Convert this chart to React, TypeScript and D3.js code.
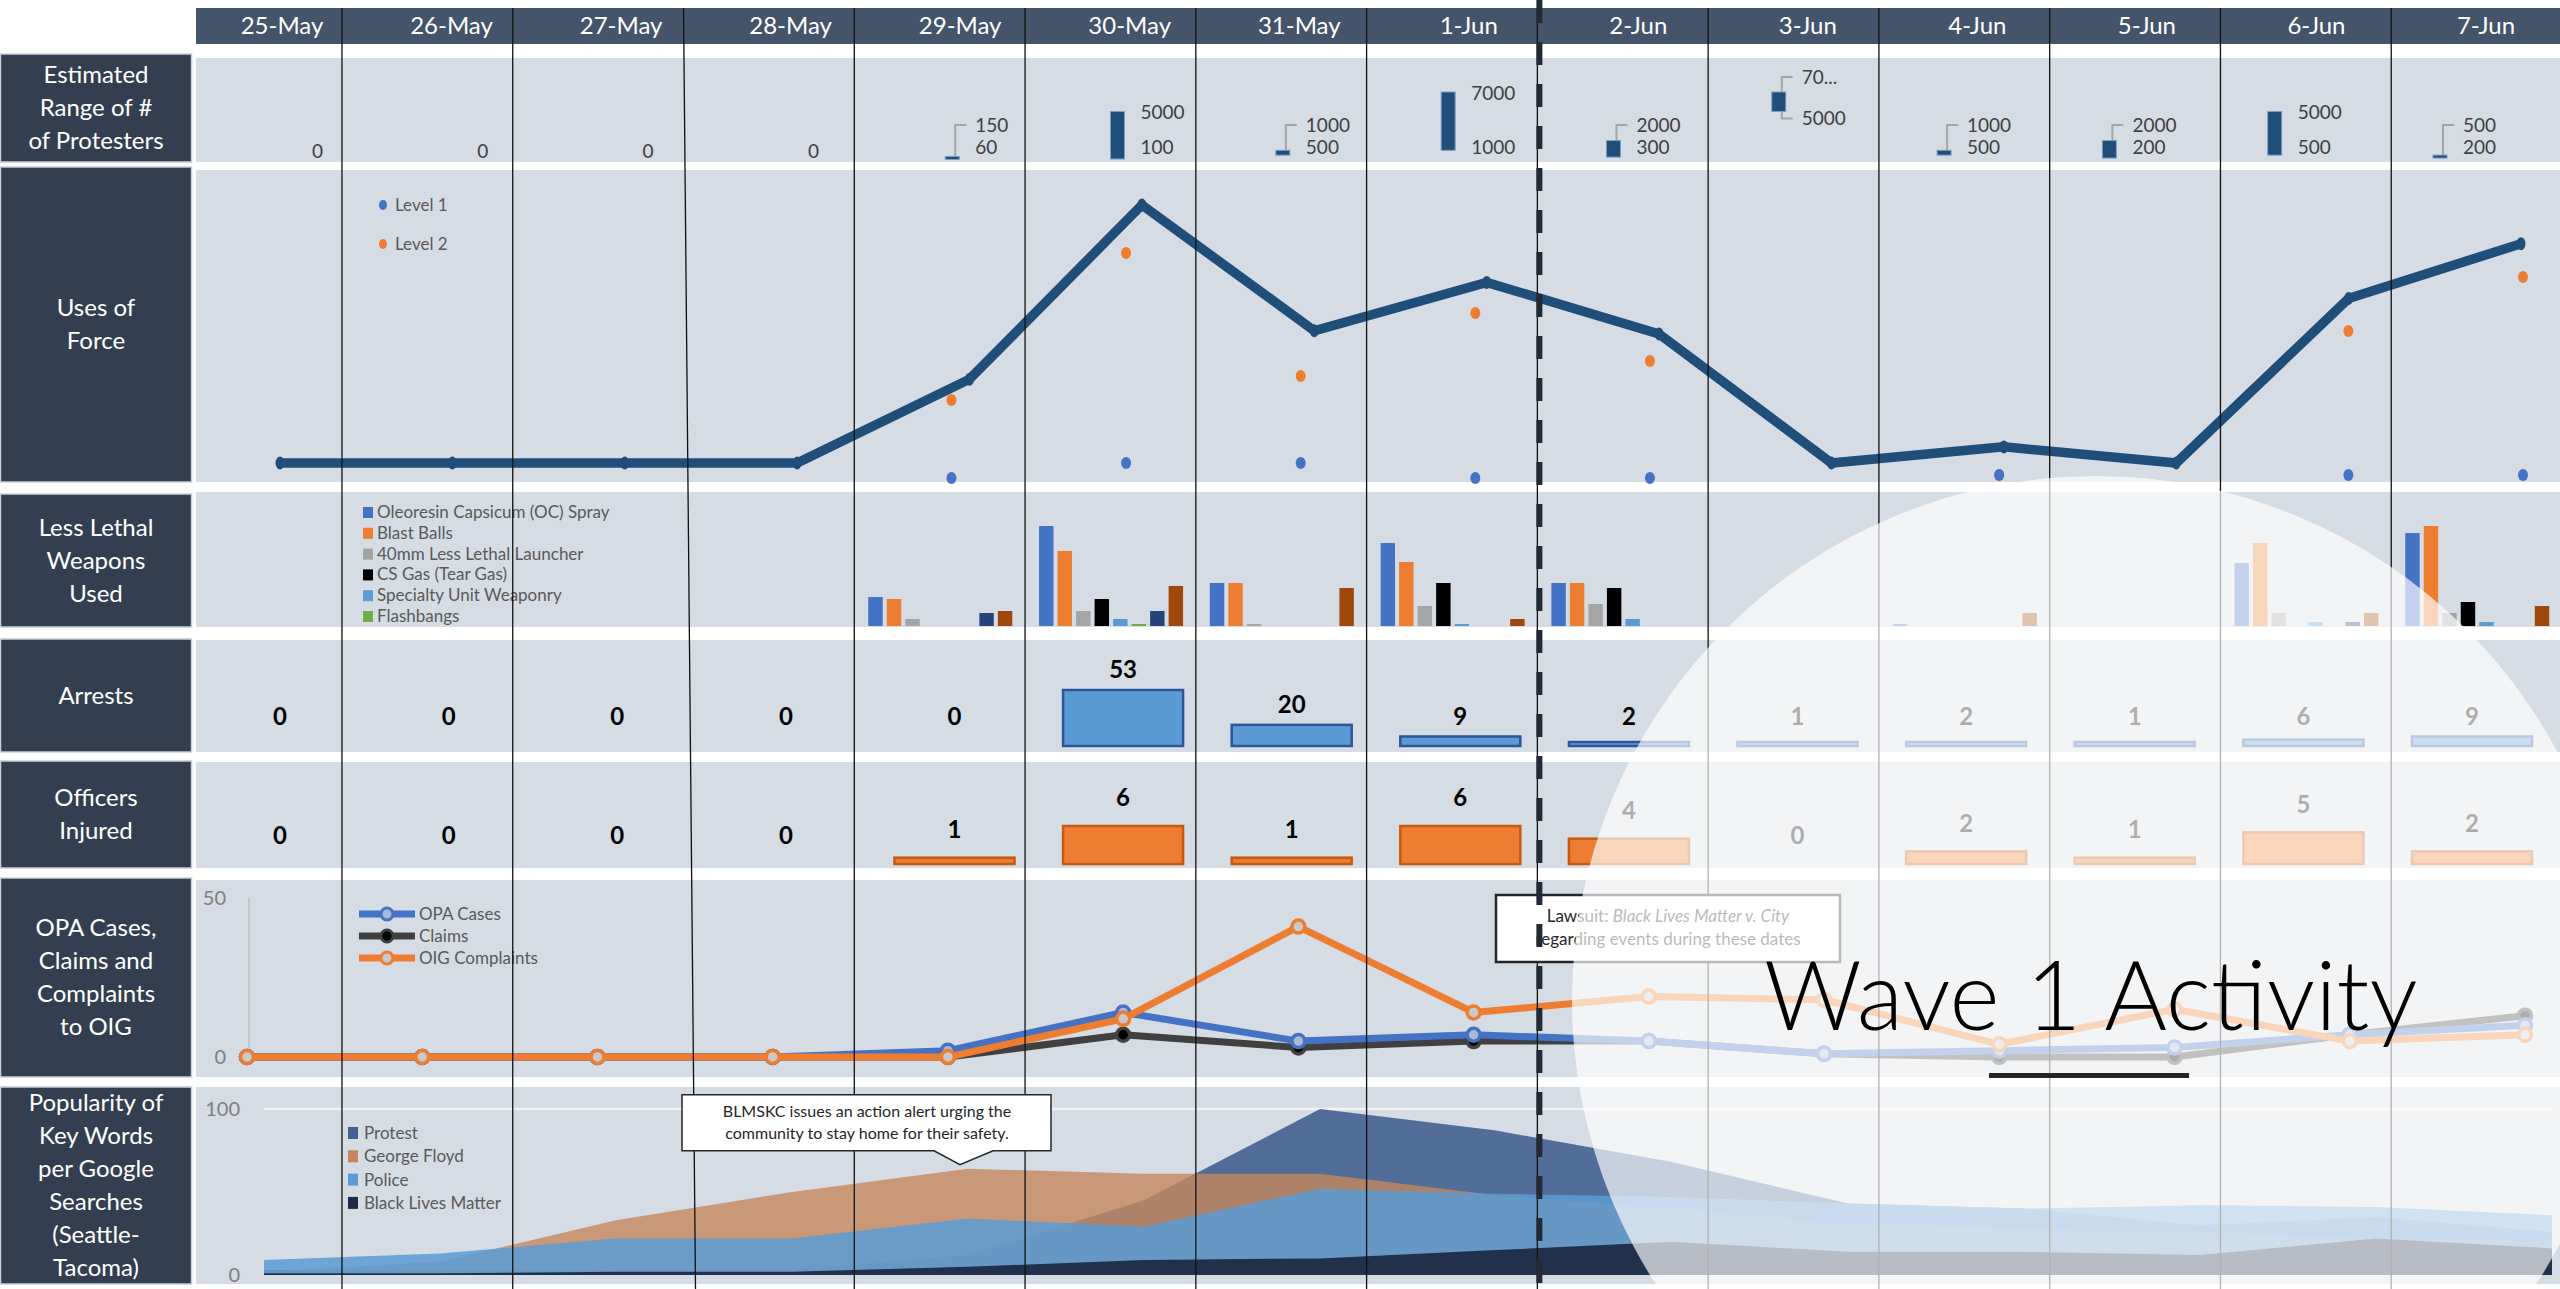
import React from 'react';
import * as d3 from 'd3';

const dates = ['25-May', '26-May', '27-May', '28-May', '29-May', '30-May', '31-May', '1-Jun', '2-Jun', '3-Jun', '4-Jun', '5-Jun', '6-Jun', '7-Jun'];

// estimated range of # of protesters
const protLow = [0, 0, 0, 0, 60, 100, 500, 1000, 300, 5000, 500, 200, 500, 200];
const protHigh = [0, 0, 0, 0, 150, 5000, 1000, 7000, 2000, 7000, 1000, 2000, 5000, 500];
const protHighText = ['0', '0', '0', '0', '150', '5000', '1000', '7000', '2000', '70...', '1000', '2000', '5000', '500'];

// uses of force
const forceTotal = [0, 0, 0, 0, 26, 80, 41, 56, 40, 0, 5, 0, 51, 68];
const forceLevel1 = [null, null, null, null, 0, 5, 5, 0, 0, null, 1, null, 1, 1];
const forceLevel2 = [null, null, null, null, 26, 75, 34, 55, 39, null, 1, null, 49, 67];

// less lethal weapons
const weaponNames = ['Oleoresin Capsicum (OC) Spray', 'Blast Balls', '40mm Less Lethal Launcher', 'CS Gas (Tear Gas)', 'Specialty Unit Weaponry', 'Flashbangs', 'Other A', 'Other B'];
const weaponOC = [0, 0, 0, 0, 29, 100, 43, 83, 43, 0, 2, 0, 63, 93];
const weaponBlast = [0, 0, 0, 0, 27, 75, 43, 64, 43, 0, 0, 0, 83, 100];
const weapon40mm = [0, 0, 0, 0, 7, 15, 2, 20, 22, 0, 0, 0, 13, 13];
const weaponCS = [0, 0, 0, 0, 0, 27, 0, 43, 38, 0, 0, 0, 0, 24];
const weaponSpecialty = [0, 0, 0, 0, 0, 7, 0, 2, 7, 0, 0, 0, 4, 4];
const weaponFlash = [0, 0, 0, 0, 0, 2, 0, 0, 0, 0, 0, 0, 0, 0];
const weaponOtherA = [0, 0, 0, 0, 13, 15, 0, 0, 0, 0, 0, 0, 4, 0];
const weaponOtherB = [0, 0, 0, 0, 15, 40, 38, 7, 0, 0, 13, 0, 13, 20];
const weaponColors = ['#4472c4', '#ed7d31', '#a5a5a5', '#000000', '#5b9bd5', '#70ad47', '#264478', '#9e480e'];

// arrests / officers injured
const arrests = [0, 0, 0, 0, 0, 53, 20, 9, 2, 1, 2, 1, 6, 9];
const officersInjured = [0, 0, 0, 0, 1, 6, 1, 6, 4, 0, 2, 1, 5, 2];

// OPA cases, claims, OIG complaints
const opaCases = [0, 0, 0, 0, 2, 14, 5, 7, 5, 1, 2, 3, 7, 10];
const claims = [0, 0, 0, 0, 0, 7, 3, 5, 5, 1, 0, 0, 7, 13];
const oigComplaints = [0, 0, 0, 0, 0, 12, 41, 14, 19, 18, 4, 15, 5, 7];

// google search popularity
const popProtest = [3, 3, 3, 3, 12, 45, 100, 87, 68, 43, 40, 30, 35, 26];
const popFloyd = [2, 8, 33, 50, 64, 61, 61, 48, 40, 30, 28, 25, 22, 20];
const popPolice = [9, 13, 22, 22, 34, 29, 52, 49, 47, 43, 40, 42, 41, 36];
const popBLM = [1, 1, 2, 2, 5, 9, 10, 15, 20, 14, 14, 12, 22, 16];

const F = "Lato, 'Open Sans', 'Noto Sans', sans-serif";
const W = 2560;
const H = 1289;
const PANEL_BG = '#d6dce4';
const BOX_BG = '#333f50';

const rows = [
  { top: 58, bottom: 162, boxTop: 54, label: ['Estimated', 'Range of  #', 'of Protesters'] },
  { top: 170, bottom: 482, boxTop: 167, label: ['Uses of', 'Force'] },
  { top: 492, bottom: 627, boxTop: 494, label: ['Less Lethal', 'Weapons', 'Used'] },
  { top: 640, bottom: 752, boxTop: 639, label: ['Arrests'] },
  { top: 762, bottom: 868, boxTop: 761, label: ['Officers', 'Injured'] },
  { top: 880, bottom: 1077, boxTop: 878, label: ['OPA Cases,', 'Claims and', 'Complaints', 'to OIG'] },
  { top: 1087, bottom: 1284, boxTop: 1087, label: ['Popularity of', 'Key Words', 'per Google', 'Searches', '(Seattle-', 'Tacoma)'] },
];

export default function App() {
  const colX = d3.scaleBand<string>().domain(dates).range([171.2, 2562]);
  const headX = d3.scalePoint<string>().domain(dates).range([282, 2486]);

  // protesters
  const protX = d3.scalePoint<string>().domain(dates).range([291, 2440]);
  const protY = d3.scaleLinear().domain([0, 7000]).range([160, 92]);

  // force
  const forceX = d3.scalePoint<string>().domain(dates).range([280, 2521]);
  const forceY = d3.scaleLinear().domain([0, 80]).range([463, 205]);
  const dotX = d3.scalePoint<string>().domain(dates).range([253, 2523]);
  const dotY = d3.scaleLinear().domain([0, 80]).range([478, 238]);
  const forceLine = d3.line<number>().x((_, i) => forceX(dates[i])!).y(v => forceY(v));

  // weapons
  const weaponSeries = [weaponOC, weaponBlast, weapon40mm, weaponCS, weaponSpecialty, weaponFlash, weaponOtherA, weaponOtherB];
  const inner = d3.scaleBand<string>().domain(weaponNames).range([14, 158]).paddingInner(0.22);
  const weapY = d3.scaleLinear().domain([0, 100]).range([626, 526]);

  // arrests / officers
  const barX = d3.scalePoint<string>().domain(dates).range([280, 2472]);
  const arrY = d3.scaleLinear().domain([0, 53]).range([746, 690]);
  const offY = d3.scaleLinear().domain([0, 6]).range([864, 826]);

  // OPA
  const opaX = d3.scalePoint<string>().domain(dates).range([247, 2525]);
  const opaY = d3.scaleLinear().domain([0, 50]).range([1057, 898]);
  const opaLine = d3.line<number>().x((_, i) => opaX(dates[i])!).y(v => opaY(v));
  const opaSeries = [
    { name: 'Claims', data: claims, color: '#404040', fill: '#000' },
    { name: 'OPA Cases', data: opaCases, color: '#4472c4', fill: '#a9b8d6' },
    { name: 'OIG Complaints', data: oigComplaints, color: '#ed7d31', fill: '#c9c9c9' },
  ];
  const opaLegend = [opaSeries[1], opaSeries[0], opaSeries[2]];

  // popularity
  const popX = d3.scalePoint<string>().domain(dates).range([264, 2552]);
  const popY = d3.scaleLinear().domain([0, 100]).range([1275, 1109]);
  const popArea = d3.area<number>().x((_, i) => popX(dates[i])!).y0(popY(0)).y1(v => popY(v));
  const popSeries = [
    { name: 'Protest', data: popProtest, color: '#44608f', op: 0.9 },
    { name: 'George Floyd', data: popFloyd, color: '#c4875d', op: 0.8 },
    { name: 'Police', data: popPolice, color: '#5b9bd5', op: 0.85 },
    { name: 'Black Lives Matter', data: popBLM, color: '#1e2b45', op: 0.95 },
  ];

  const tipX = popX('29-May')! - 8;
  const tipY = popY(popFloyd[4]) - 4;

  return (
    <div style={{ position: 'absolute', left: 0, top: 0 }}>
      <svg width={W} height={H} viewBox={`0 0 ${W} ${H}`} style={{ display: 'block', fontFamily: F }}>
        <rect width={W} height={H} fill="#fff" />

        {/* header */}
        <rect x={196} y={8} width={W - 196} height={36} fill="#44546a" />
        {dates.map(d => (
          <text key={d} x={headX(d)} y={26} dy="0.35em" textAnchor="middle" fill="#fff" fontSize={24}>{d}</text>
        ))}

        {/* row label boxes and panels */}
        {rows.map((r, i) => {
          const cy = (r.boxTop + r.bottom) / 2;
          const n = r.label.length;
          return (
            <g key={i}>
              <rect x={0.5} y={r.boxTop} width={191} height={r.bottom - r.boxTop} fill={BOX_BG} stroke="#c9ced6" strokeWidth={1.5} />
              {r.label.map((t, j) => (
                <text key={j} x={96} y={cy + (j - (n - 1) / 2) * 33} dy="0.35em" textAnchor="middle" fill="#fff" fontSize={24}>{t}</text>
              ))}
              <rect x={196} y={r.top} width={W - 196} height={r.bottom - r.top} fill={PANEL_BG} />
            </g>
          );
        })}

        {/* protesters range */}
        {dates.map((d, i) => {
          const x = protX(d)!;
          if (protHigh[i] === 0) {
            return <text key={d} x={x + 21} y={151} dy="0.35em" fontSize={19} fill="#404040">0</text>;
          }
          const yHi = protY(protHigh[i]);
          const yLo = protY(protLow[i]);
          const h = Math.max(3, yLo - yHi);
          const tall = yLo - yHi >= 30;
          const loLab = yLo > 140 ? 147 : yLo + 7;
          const hiLab = tall ? yHi + 1 : Math.min(yHi - 15, loLab - 22);
          return (
            <g key={d}>
              {!tall && <path d={`M${x + 3},${yLo - h} V${hiLab} H${x + 14}`} fill="none" stroke="#a6a6a6" strokeWidth={2} />}
              {!tall && yLo <= 140 && <path d={`M${x + 3},${yLo} V${loLab} H${x + 14}`} fill="none" stroke="#a6a6a6" strokeWidth={2} />}
              <rect x={x - 7} y={yLo - h} width={14} height={h} fill="#1f4e79" stroke="#7f9cc6" strokeWidth={1} />
              <text x={x + 23} y={hiLab} dy="0.35em" fontSize={19} fill="#404040">{protHighText[i]}</text>
              <text x={x + 23} y={loLab} dy="0.35em" fontSize={19} fill="#404040">{protLow[i]}</text>
            </g>
          );
        })}

        {/* uses of force */}
        <path d={forceLine(forceTotal)!} fill="none" stroke="#1f4e79" strokeWidth={9.5} strokeLinejoin="miter" />
        {forceTotal.map((v, i) => (
          <ellipse key={i} cx={forceX(dates[i])} cy={forceY(v)} rx={4.5} ry={6.5} fill="#1f4e79" />
        ))}
        {dates.map((d, i) => (
          <g key={d}>
            {forceLevel2[i] !== null && <ellipse cx={dotX(d)} cy={dotY(forceLevel2[i] as number)} rx={5} ry={6} fill="#ed7d31" />}
            {forceLevel1[i] !== null && <ellipse cx={dotX(d)} cy={dotY(forceLevel1[i] as number)} rx={5} ry={6} fill="#4472c4" />}
          </g>
        ))}
        <ellipse cx={383} cy={205} rx={4} ry={5} fill="#4472c4" />
        <text x={395} y={205} dy="0.35em" fontSize={17} fill="#595959">Level 1</text>
        <ellipse cx={383} cy={244} rx={4} ry={5} fill="#ed7d31" />
        <text x={395} y={244} dy="0.35em" fontSize={17} fill="#595959">Level 2</text>

        {/* less lethal weapons */}
        {dates.map((d, i) => (
          <g key={d}>
            {weaponSeries.map((s, k) => s[i] > 0 && (
              <rect key={k} x={colX(d)! + inner(weaponNames[k])!} y={weapY(s[i])} width={inner.bandwidth()} height={weapY(0) - weapY(s[i])} fill={weaponColors[k]} />
            ))}
          </g>
        ))}
        {weaponNames.slice(0, 6).map((n, k) => (
          <g key={n}>
            <rect x={363} y={512 + k * 20.8 - 5} width={10} height={11} fill={weaponColors[k]} />
            <text x={377} y={512 + k * 20.8} dy="0.35em" fontSize={17} fill="#595959">{n}</text>
          </g>
        ))}

        {/* arrests */}
        {dates.map((d, i) => {
          const x = barX(d)!;
          const v = arrests[i];
          const top = v > 0 ? Math.min(arrY(v), arrY(0) - 4) : arrY(0);
          return (
            <g key={d}>
              {v > 0 && <rect x={x - 60} y={top} width={120} height={arrY(0) - top} fill="#5b9bd5" stroke="#2f5597" strokeWidth={2.5} />}
              <text x={x} y={Math.min(top - 20, 717)} dy="0.35em" textAnchor="middle" fontSize={24} fontWeight="bold" fill="#000">{v}</text>
            </g>
          );
        })}

        {/* officers injured */}
        {dates.map((d, i) => {
          const x = barX(d)!;
          const v = officersInjured[i];
          const top = v > 0 ? Math.min(offY(v), offY(0) - 4) : offY(0);
          return (
            <g key={d}>
              {v > 0 && <rect x={x - 60} y={top} width={120} height={offY(0) - top} fill="#ed7d31" stroke="#c55a11" strokeWidth={2.5} />}
              <text x={x} y={top - 28} dy="0.35em" textAnchor="middle" fontSize={24} fontWeight="bold" fill="#000">{v}</text>
            </g>
          );
        })}

        {/* OPA cases etc */}
        <line x1={249} x2={249} y1={opaY(50)} y2={opaY(0)} stroke="#bfbfbf" strokeWidth={1.5} />
        {[0, 50].map(t => (
          <text key={t} x={226} y={opaY(t)} dy="0.35em" textAnchor="end" fontSize={20} fill="#7f7f7f">{t}</text>
        ))}
        {opaSeries.map(s => (
          <g key={s.name}>
            <path d={opaLine(s.data)!} fill="none" stroke={s.color} strokeWidth={7} strokeLinejoin="round" />
            {s.data.map((v, i) => (
              <circle key={i} cx={opaX(dates[i])} cy={opaY(v)} r={6.5} fill={s.fill} stroke={s.color} strokeWidth={3.5} />
            ))}
          </g>
        ))}
        {opaLegend.map((s, k) => (
          <g key={s.name}>
            <line x1={359} x2={415} y1={914 + k * 22} y2={914 + k * 22} stroke={s.color} strokeWidth={7} />
            <circle cx={387} cy={914 + k * 22} r={6} fill={s.fill} stroke={s.color} strokeWidth={3} />
            <text x={419} y={914 + k * 22} dy="0.35em" fontSize={17} fill="#595959">{s.name}</text>
          </g>
        ))}

        {/* popularity */}
        <line x1={popX(dates[0])} x2={popX(dates[13])} y1={popY(100)} y2={popY(100)} stroke="#f2f2f2" strokeWidth={2.5} />
        {[0, 100].map(t => (
          <text key={t} x={240} y={popY(t)} dy="0.35em" textAnchor="end" fontSize={20} fill="#7f7f7f">{t}</text>
        ))}
        {popSeries.map(s => (
          <path key={s.name} d={popArea(s.data)!} fill={s.color} fillOpacity={s.op} />
        ))}
        {popSeries.map((s, k) => (
          <g key={s.name}>
            <rect x={348} y={1133 + k * 23.3 - 6} width={10} height={12} fill={s.color} />
            <text x={364} y={1133 + k * 23.3} dy="0.35em" fontSize={17} fill="#595959">{s.name}</text>
          </g>
        ))}

        {/* column dividers */}
        {dates.slice(1).map((d, i) => {
          const x = colX(d)!;
          return <line key={d} x1={x} x2={i === 2 ? x + 12 : x} y1={8} y2={H} stroke="#111" strokeWidth={1.3} />;
        })}

        {/* callouts */}
        <path
          d={`M${tipX - 278},${tipY - 70} H${tipX + 91} V${tipY - 14} H${tipX + 33} L${tipX},${tipY} L${tipX - 26},${tipY - 14} H${tipX - 278} Z`}
          fill="#fff" stroke="#262626" strokeWidth={1.5}
        />
        <text x={tipX - 93} y={tipY - 53} dy="0.35em" textAnchor="middle" fontSize={16} fill="#262626">BLMSKC issues an action alert urging the</text>
        <text x={tipX - 93} y={tipY - 31} dy="0.35em" textAnchor="middle" fontSize={16} fill="#262626">community to stay home for their safety.</text>

        <rect x={1496} y={895} width={344} height={67} fill="#fff" stroke="#262626" strokeWidth={2.5} />
        <text x={1668} y={916} dy="0.35em" textAnchor="middle" fontSize={17} fill="#262626">
          Lawsuit: <tspan fontStyle="italic">Black Lives Matter v. City</tspan>
        </text>
        <text x={1668} y={939} dy="0.35em" textAnchor="middle" fontSize={17} fill="#262626">regarding events during these dates</text>

        {/* wave overlay */}
        <circle cx={2096} cy={1000} r={524} fill="#fff" fillOpacity={0.68} />

        <line x1={colX('2-Jun')! + 2} x2={colX('2-Jun')! + 2} y1={0} y2={H} stroke="#222a35" strokeWidth={6} strokeDasharray="23 19" />

        <text x={1764} y={1030} fontSize={96} fontWeight={300} fill="#000">Wave 1 Activity</text>
        <rect x={1989} y={1073} width={200} height={5} fill="#262626" />
      </svg>
    </div>
  );
}
